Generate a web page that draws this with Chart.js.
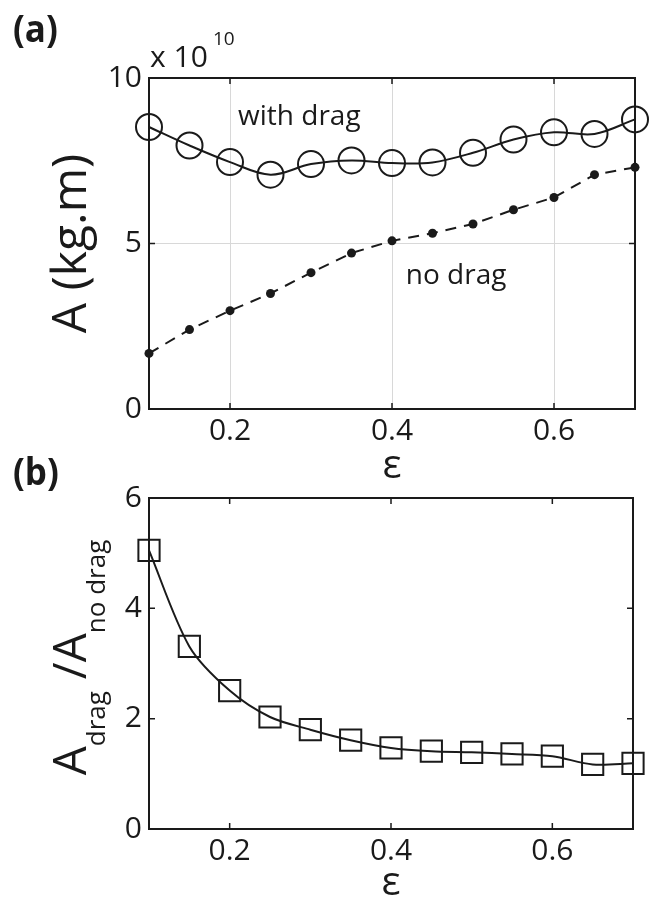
<!DOCTYPE html>
<html>
<head>
<meta charset="utf-8">
<script src="https://cdn.jsdelivr.net/npm/chart.js@4.4.0/dist/chart.umd.min.js"></script>
<style>
    body { margin: 0; background: #fff; }
    #wrap { position: relative; width: 650px; height: 900px; }
    .box { position: absolute; left: 0; width: 650px; }
    #boxA { top: 0; height: 500px; }
    #boxB { top: 440px; height: 460px; }
</style>
</head>
<body>
<div id="wrap">
    <div class="box" id="boxA"><canvas id="chartA"></canvas></div>
    <div class="box" id="boxB"><canvas id="chartB"></canvas></div>
</div>
<script>
// values (A in units of 1e10 kg.m)
const epsilon = [0.1, 0.15, 0.2, 0.25, 0.3, 0.35, 0.4, 0.45, 0.5, 0.55, 0.6, 0.65, 0.7];
const withDrag = [8.52, 7.96, 7.46, 7.08, 7.40, 7.51, 7.43, 7.45, 7.74, 8.14, 8.36, 8.31, 8.75];
const noDrag = [1.68, 2.40, 2.97, 3.49, 4.12, 4.71, 5.08, 5.31, 5.59, 6.02, 6.39, 7.08, 7.30];
const ratio = [5.05, 3.31, 2.51, 2.03, 1.80, 1.61, 1.47, 1.41, 1.39, 1.36, 1.32, 1.17, 1.19];
const xTicks = [0.2, 0.4, 0.6];
const yTicksA = [0, 5, 10];
const yTicksB = [0, 2, 4, 6];

const INK = '#1a1a1a';
const FONT = "'Open Sans', 'Noto Sans', sans-serif";

Chart.defaults.font.family = FONT;
Chart.defaults.color = INK;

function pts(ys) {
    return epsilon.map((x, i) => ({ x: x, y: ys[i] }));
}

function text(ctx, s, x, y, size, opts) {
    opts = opts || {};
    ctx.save();
    ctx.font = (opts.weight || '') + ' ' + size + 'px ' + FONT;
    ctx.fillStyle = INK;
    ctx.textAlign = opts.align || 'left';
    ctx.textBaseline = opts.base || 'alphabetic';
    ctx.fillText(s, x, y);
    ctx.restore();
}

// panel letter, bold and a bit narrow like the original
function panel(ctx, s, x, y) {
    ctx.save();
    ctx.translate(x, y);
    ctx.scale(0.92, 1);
    ctx.font = 'bold 38px ' + FONT;
    ctx.fillStyle = INK;
    ctx.fillText(s, 0, 0);
    ctx.restore();
}

// rotated run of text pieces, centred on cy, reading bottom to top
function vtext(ctx, pieces, baseX, cy) {
    ctx.save();
    ctx.translate(baseX, cy);
    ctx.rotate(-Math.PI / 2);
    let total = 0;
    pieces.forEach(p => {
        ctx.font = p.size + 'px ' + FONT;
        p.w = ctx.measureText(p.s).width;
        total += p.w;
    });
    let x = -total / 2;
    ctx.fillStyle = INK;
    ctx.textBaseline = 'alphabetic';
    pieces.forEach(p => {
        ctx.font = p.size + 'px ' + FONT;
        ctx.fillText(p.s, x, p.dy || 0);
        x += p.w;
    });
    ctx.restore();
}

// full box with tick marks pointing inwards
const frame = {
    id: 'frame',
    beforeDatasetsDraw(chart) {
        const { ctx, chartArea: a, scales } = chart;
        ctx.save();
        ctx.strokeStyle = INK;
        ctx.lineWidth = 1.5;
        ctx.beginPath();
        scales.x.ticks.forEach(t => {
            const px = scales.x.getPixelForValue(t.value);
            ctx.moveTo(px, a.bottom); ctx.lineTo(px, a.bottom - 6);
            ctx.moveTo(px, a.top); ctx.lineTo(px, a.top + 6);
        });
        scales.y.ticks.forEach(t => {
            const py = scales.y.getPixelForValue(t.value);
            ctx.moveTo(a.left, py); ctx.lineTo(a.left + 6, py);
            ctx.moveTo(a.right, py); ctx.lineTo(a.right - 6, py);
        });
        ctx.stroke();
        ctx.lineWidth = 2;
        ctx.strokeRect(a.left, a.top, a.right - a.left, a.bottom - a.top);
        ctx.restore();
    }
};

const labelsA = {
    id: 'labelsA',
    afterDraw(chart) {
        const { ctx, chartArea: a, scales } = chart;
        const mid = (a.left + a.right) / 2;
        panel(ctx, '(a)', 13, 42);
        text(ctx, 'x 10', a.left + 1, 67, 30);
        text(ctx, '10', a.left + 64, 45, 19);
        text(ctx, 'with drag', scales.x.getPixelForValue(0.21), scales.y.getPixelForValue(8.82), 28, { base: 'middle' });
        text(ctx, 'no drag', scales.x.getPixelForValue(0.417), scales.y.getPixelForValue(4.02), 28, { base: 'middle' });
        text(ctx, 'ε', mid, 467, 40, { align: 'center', base: 'middle' });
        vtext(ctx, [{ s: 'A (kg.m)', size: 48 }], 86, (a.top + a.bottom) / 2);
    }
};

const labelsB = {
    id: 'labelsB',
    afterDraw(chart) {
        const { ctx, chartArea: a } = chart;
        const mid = (a.left + a.right) / 2;
        panel(ctx, '(b)', 13, 45);
        text(ctx, 'ε', mid, 444, 40, { align: 'center', base: 'middle' });
        vtext(ctx, [
            { s: 'A', size: 46 },
            { s: 'drag', size: 26, dy: 19 },
            { s: ' /A', size: 46 },
            { s: 'no drag', size: 26, dy: 19 }
        ], 86, (a.top + a.bottom) / 2 - 6);
    }
};

function axes(yMin, yMax, yTicks, xHeight, showGrid) {
    const grid = { display: showGrid, color: '#d8d8d8', lineWidth: 1, drawTicks: false };
    return {
        x: {
            type: 'linear', min: 0.1, max: 0.7,
            afterBuildTicks: s => { s.ticks = xTicks.map(v => ({ value: v })); },
            afterFit: s => { s.height = xHeight; },
            grid: grid,
            border: { display: false },
            ticks: { font: { size: 30 }, color: INK, padding: 4, callback: v => v.toFixed(1) }
        },
        y: {
            min: yMin, max: yMax,
            afterBuildTicks: s => { s.ticks = yTicks.map(v => ({ value: v })); },
            afterFit: s => { s.width = 149; },
            grid: grid,
            border: { display: false },
            ticks: { font: { size: 30 }, color: INK, padding: 7, callback: v => String(v) }
        }
    };
}

const common = {
    responsive: true,
    maintainAspectRatio: false,
    animation: false,
    devicePixelRatio: 1,
    plugins: { legend: { display: false }, tooltip: { enabled: false } }
};

new Chart(document.getElementById('chartA'), {
    type: 'line',
    data: {
        datasets: [{
            label: 'with drag',
            data: pts(withDrag),
            borderColor: INK,
            borderWidth: 2,
            tension: 0.35,
            pointStyle: 'circle',
            pointRadius: 13,
            pointBorderWidth: 2,
            pointBorderColor: INK,
            pointBackgroundColor: 'rgba(0,0,0,0)',
            clip: false
        }, {
            label: 'no drag',
            data: pts(noDrag),
            borderColor: INK,
            borderWidth: 2,
            borderDash: [11, 8],
            tension: 0,
            pointStyle: 'circle',
            pointRadius: 4.5,
            pointBorderWidth: 0,
            pointBackgroundColor: INK,
            clip: false
        }]
    },
    options: Object.assign({}, common, {
        layout: { padding: { top: 78, right: 12, left: 0, bottom: 0 } },
        scales: axes(0, 10, yTicksA, 91, true)
    }),
    plugins: [frame, labelsA]
});

new Chart(document.getElementById('chartB'), {
    type: 'line',
    data: {
        datasets: [{
            label: 'ratio',
            data: pts(ratio),
            borderColor: INK,
            borderWidth: 2,
            tension: 0.3,
            pointStyle: 'rect',
            pointRadius: 15,
            pointBorderWidth: 2,
            pointBorderColor: INK,
            pointBackgroundColor: 'rgba(0,0,0,0)',
            clip: false
        }]
    },
    options: Object.assign({}, common, {
        layout: { padding: { top: 58, right: 12, left: 0, bottom: 0 } },
        scales: axes(0, 6, yTicksB, 71, false)
    }),
    plugins: [frame, labelsB]
});
</script>
</body>
</html>
